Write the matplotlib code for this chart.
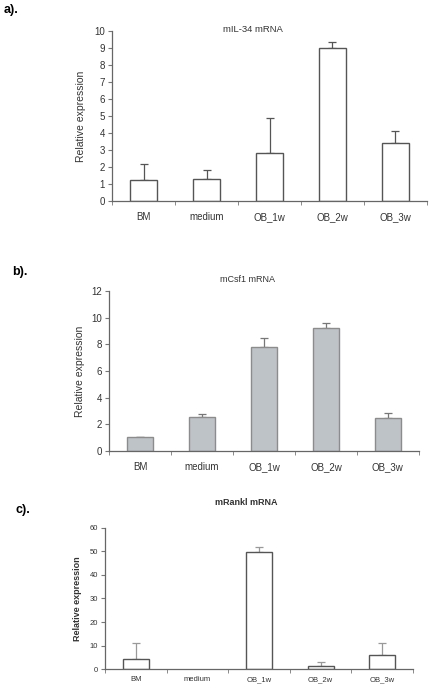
import numpy as np
import matplotlib
matplotlib.use('Agg')
import matplotlib.pyplot as plt

plt.rcParams['font.family'] = ['Liberation Sans', 'DejaVu Sans']

groups = ['BM', 'medium', 'OB_1w', 'OB_2w', 'OB_3w']

# a) mIL-34
il34_mean = [1.22, 1.3, 2.8, 8.98, 3.42]
il34_err = [0.98, 0.52, 2.1, 0.35, 0.72]

# b) mCsf1
csf1_mean = [1.02, 2.52, 7.78, 9.25, 2.45]
csf1_err = [0.06, 0.22, 0.72, 0.35, 0.38]

# c) mRankl
rankl_mean = [4.4, 0.0, 49.8, 1.4, 6.1]
rankl_err = [6.6, 0.0, 2.2, 1.7, 4.9]

fig = plt.figure(figsize=(4.3, 6.89), dpi=100)

def panel(rect, mean, err, ymax, ystep, title, face, edge, ecol,
          fs, tfs, tbold, lab_x, title_x, title_y, lab_bold, xpad, lfs):
    ax = fig.add_axes(rect)
    x = np.arange(len(groups))
    mean = np.asarray(mean)
    err = np.asarray(err)
    bars = ax.bar(x, mean, width=0.42, color=face, edgecolor=edge, linewidth=1.0, zorder=2)
    for b, m in zip(bars, mean):
        if m == 0:
            b.set_visible(False)
    show = err > 0
    ax.errorbar(x[show], mean[show], yerr=[np.zeros(show.sum()), err[show]], fmt='none',
                ecolor=ecol, elinewidth=0.9, capsize=3, capthick=0.9, zorder=1)
    ax.set_xlim(-0.5, len(groups) - 0.5)
    ax.set_ylim(0, ymax)
    ax.set_yticks(np.arange(0, ymax + 0.1, ystep))
    ax.set_xticks(x)
    ax.set_xticklabels(groups)
    ax.set_xticks(np.arange(-0.5, len(groups)), minor=True)
    ax.tick_params(axis='x', which='major', length=0, pad=xpad, labelsize=fs, colors='#333333')
    ax.tick_params(axis='x', which='minor', length=3, color='#777777')
    ax.tick_params(axis='y', length=3, labelsize=fs, color='#777777', labelcolor='#333333', pad=2)
    for s in ['top', 'right']:
        ax.spines[s].set_visible(False)
    for s in ['left', 'bottom']:
        ax.spines[s].set_color('#666666')
        ax.spines[s].set_linewidth(0.9)
    ax.set_ylabel('Relative expression', fontsize=lfs, color='#333333',
                  fontweight='bold' if lab_bold else 'normal')
    ax.yaxis.set_label_coords(lab_x, 0.5)
    ax.text(title_x, title_y, title, transform=ax.transAxes, ha='center', va='center',
            fontsize=tfs, color='#333333', fontweight='bold' if tbold else 'normal')
    return ax

panel([0.2605, 0.7083, 0.7325, 0.2467], il34_mean, il34_err, 10, 1, 'mIL-34 mRNA',
      'white', '#555555', '#555555', 7, 6.8, False, -0.083, 0.448, 1.01, False, 8, 7.5)
panel([0.2535, 0.3454, 0.7205, 0.2323], csf1_mean, csf1_err, 12, 2, 'mCsf1 mRNA',
      '#bec3c8', '#8c8c8c', '#777777', 7, 6.5, False, -0.077, 0.448, 1.07, False, 8, 7.5)
panel([0.2442, 0.0290, 0.7163, 0.2047], rankl_mean, rankl_err, 60, 10, 'mRankl mRNA',
      'white', '#555555', '#999999', 5.5, 6.5, True, -0.075, 0.458, 1.18, True, 5, 6.5)

fig.text(0.008, 1 - 10 / 689, 'a).', fontsize=9, fontweight='bold', va='center')
fig.text(0.028, 1 - 272 / 689, 'b).', fontsize=9, fontweight='bold', va='center')
fig.text(0.035, 1 - 510 / 689, 'c).', fontsize=9, fontweight='bold', va='center')

fig.savefig('out.png', dpi=100)
